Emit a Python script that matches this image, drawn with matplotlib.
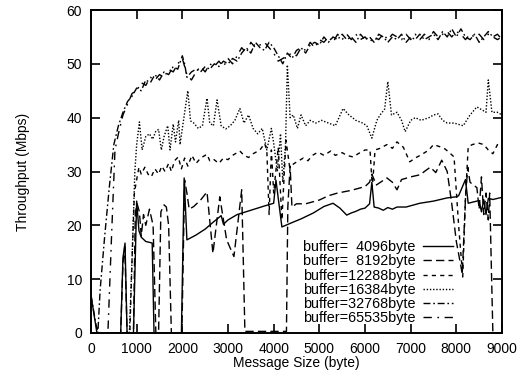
import matplotlib
matplotlib.use("Agg")
import matplotlib.pyplot as plt

plt.rcParams['font.family'] = ['Liberation Sans', 'DejaVu Sans']

# ---------------- data ----------------
x_4096 = [0, 130, 650, 700, 745, 790, 930, 1000, 1050, 1100, 1200, 1300, 1340, 1380, 1980, 2040, 2100,
          2300, 2500, 2650, 2850, 2900, 3000, 3200, 3500, 3800, 4000, 4050, 4180, 4400, 4600, 4870,
          5100, 5300, 5450, 5600, 5700, 5800, 5900, 6000, 6100, 6150, 6200, 6300, 6400, 6500, 6600,
          6700, 6900, 7200, 7500, 7800, 8000, 8050, 8150, 8200, 8260, 8400, 8500, 8550, 8600, 8650,
          8700, 8800, 9000]
y_4096 = [7, 0, 0, 14, 16.7, 0, 0, 24.5, 19, 17.8, 17, 16.8, 16.7, 0, 0, 28.8, 17.3,
          18.2, 19.3, 20.4, 21.8, 20.2, 21, 22, 22.8, 23.6, 24.1, 28.4, 19.7, 20.5, 21.2, 22.3,
          23.5, 24.1, 23.2, 21.9, 22.3, 22.6, 23, 23.2, 24, 28, 23.4, 23.2, 22.8, 23.3, 23,
          23.4, 23.4, 24.1, 24.5, 25.1, 25.3, 25.5, 27.5, 28.5, 24.1, 24.4, 24.6, 22.5, 24.8, 22,
          25, 24.8, 25.2]

x_8192 = [0, 650, 700, 740, 790, 930, 970, 1010, 1060, 1100, 1150, 1200, 1280, 1360, 1420, 1480,
          1530, 1600, 1650, 1700, 1760, 1990, 2050, 2100, 2150, 2250, 2400, 2540, 2670, 2820, 2970,
          3130, 3300, 3370, 3500, 4280, 4310, 4360, 4400, 4500, 4700, 5000, 5200, 5400, 5700, 6000,
          6100, 6150, 6250, 6480, 6600, 6700, 6800, 7000, 7210, 7300, 7430, 7550, 7680, 7800, 7900,
          8000, 8130, 8200, 8250, 8300, 8450, 8500, 8550, 8600, 8650, 8700, 8730, 8800, 9000]
y_8192 = [0, 0, 13, 16, 0, 0, 22.3, 24, 22.5, 18, 22, 20, 23, 20, 0, 0,
          22.5, 23.8, 23.4, 20, 0, 0, 28.4, 26, 23, 23.5, 24.7, 26.2, 14.8, 25.3, 17.3,
          14.2, 26.6, 0.3, 0.3, 0.3, 23.4, 31, 23.4, 24, 24, 24.7, 25.5, 26, 26.5, 27.2,
          28, 29.5, 27.5, 28.8, 28, 26.6, 28.5, 29, 29.4, 30, 30.8, 29.8, 32.1, 30, 24,
          17, 11, 25, 30.8, 28, 27, 23, 29, 22, 26, 21, 26, 0, 0]

x_12288 = [0, 850, 900, 950, 1000, 1050, 1100, 1180, 1250, 1320, 1400, 1480, 1550, 1620, 1700, 1760,
           1830, 1910, 1980, 2050, 2120, 2210, 2300, 2400, 2540, 2600, 2680, 2800, 2900, 3000, 3100,
           3260, 3350, 3450, 3550, 3700, 3800, 3850, 3900, 3950, 4000, 4100, 4180, 4270, 4350, 4450,
           4550, 4650, 4750, 4850, 4950, 5015, 5100, 5250, 5350, 5500, 5600, 5740, 5850, 6000, 6110,
           6160, 6220, 6330, 6480, 6600, 6700, 6840, 6980, 7100, 7250, 7400, 7500, 7640, 7750, 7850,
           7950, 8050, 8140, 8200, 8260, 8350, 8480, 8600, 8700, 8800, 8900, 9000]
y_12288 = [0, 0, 14, 26, 28.5, 30.8, 29.5, 30.8, 29.5, 29, 30.5, 29.5, 31, 30, 31.5, 30,
           32, 32.7, 30.5, 32.5, 31, 33, 31.5, 32.5, 33.2, 32, 32.3, 31.5, 32.5, 32.2, 33,
           33.8, 33, 32.6, 33.3, 34, 35.2, 34, 22, 34, 26, 34.5, 21, 35.8, 30.8, 31.5,
           32, 32.5, 32, 33, 33.5, 33.4, 33, 33.8, 33, 33.5, 33, 32.7, 33.3, 34, 34,
           27, 34, 34.3, 35, 34.3, 35.5, 34.5, 31.8, 32.5, 33.2, 34, 35, 34.6, 34.2, 33.5,
           32.7, 20, 10.4, 25, 34.6, 35, 35.3, 35, 34, 33.3, 35, 34.8]

x_16384 = [0, 840, 900, 960, 1000, 1060, 1120, 1200, 1280, 1350, 1420, 1480, 1540, 1600, 1680, 1730,
           1800, 1850, 1920, 1950, 2000, 2120, 2180, 2250, 2350, 2440, 2540, 2600, 2680, 2760, 2850,
           2950, 3050, 3150, 3260, 3350, 3450, 3550, 3650, 3750, 3850, 3950, 4000, 4080, 4150, 4200,
           4260, 4300, 4360, 4430, 4520, 4600, 4700, 4800, 4920, 5050, 5200, 5350, 5520, 5650, 5800,
           5950, 6040, 6150, 6260, 6330, 6430, 6500, 6580, 6700, 6800, 6880, 7000, 7100, 7230, 7400,
           7500, 7600, 7700, 7800, 7950, 8150, 8300, 8450, 8550, 8650, 8700, 8780, 8900, 9000]
y_16384 = [0, 0, 14, 30, 35, 39.2, 34, 36.5, 37, 36, 37.5, 37.8, 34, 36.5, 38.5, 34,
           38.8, 35.5, 39.5, 35, 38, 45, 39.4, 39, 38, 38.5, 43.6, 39, 38.5, 43.3, 38.5,
           37.9, 38.5, 39.5, 41.7, 39, 40.5, 38, 37, 38, 34, 38, 35.3, 30, 37, 28,
           35, 49.8, 40, 40.5, 38, 40.5, 38.5, 39.5, 39, 39.5, 39, 38.5, 41.7, 40.5, 39.5,
           39, 38.5, 36.2, 39.5, 40.5, 41.6, 46.7, 40.5, 41, 39.5, 37.4, 39.5, 40, 39.5, 40,
           40.5, 40.7, 39.5, 39, 39, 38.5, 40.5, 42, 41.5, 41, 47, 41, 41, 40.5]

x_32768 = [0, 100, 150, 200, 300, 400, 500, 600, 700, 800, 900, 1000, 1100, 1200, 1300, 1400, 1500,
           1600, 1700, 1800, 1900, 2000, 2050, 2100, 2200, 2300, 2400, 2500, 2600, 2700, 2800, 2900,
           3000, 3100, 3200, 3300, 3400, 3500, 3600, 3700, 3800, 3900, 4000, 4100, 4200, 4300, 4400,
           4500, 4600, 4700, 4800, 4900, 5000, 5100, 5200, 5300, 5400, 5500, 5600, 5700, 5800, 5900,
           6000, 6100, 6200, 6300, 6400, 6500, 6600, 6700, 6800, 6900, 7000, 7100, 7200, 7300, 7400,
           7500, 7600, 7700, 7800, 7900, 8000, 8100, 8200, 8300, 8400, 8500, 8600, 8700, 8800, 8900,
           9000]
y_32768 = [7, 2, 0, 8, 18, 27, 35, 38.5, 41, 43, 44, 45.5, 45, 47, 46.5, 48, 47,
           48.5, 48, 49.5, 49, 51.5, 50, 47.5, 48.5, 49, 48.5, 49.5, 49, 50, 49.5, 50.5,
           50, 51, 50.5, 52, 53, 52, 54, 53, 52.5, 54, 53, 51.5, 50, 52, 51,
           52.5, 53, 52, 53.5, 54, 53.5, 55, 54, 55, 54.5, 55.5, 54.5, 55, 54, 55.5,
           54.5, 55, 54, 55.5, 55, 54, 55, 54.5, 55.5, 54, 55, 54.5, 55.5, 54.5, 55,
           55.5, 54.5, 56, 55, 56.5, 55, 56.5, 55, 54.5, 55.5, 54, 55, 56, 55, 54.5,
           55]

x_65535 = [0, 370, 450, 525, 600, 700, 800, 900, 1000, 1100, 1200, 1300, 1400, 1500, 1600, 1700,
           1800, 1900, 2000, 2100, 2200, 2300, 2400, 2500, 2600, 2700, 2800, 2900, 3000, 3100, 3200,
           3300, 3400, 3500, 3600, 3700, 3800, 3900, 4000, 4100, 4200, 4300, 4400, 4500, 4600, 4700,
           4800, 4900, 5000, 5100, 5200, 5300, 5400, 5500, 5600, 5700, 5800, 5900, 6000, 6100, 6200,
           6300, 6400, 6500, 6600, 6700, 6800, 6900, 7000, 7100, 7200, 7300, 7400, 7500, 7600, 7700,
           7800, 7900, 8000, 8100, 8200, 8300, 8400, 8500, 8600, 8700, 8800, 8900, 9000]
y_65535 = [0, 0, 18, 34, 37, 40.5, 42.5, 44.5, 45, 46.5, 46, 47.5, 47, 48, 47.5, 49,
           48.5, 50, 51, 48, 47, 48.5, 49.5, 48.5, 50, 49.5, 50.5, 49.5, 51, 50, 51.5,
           53, 52, 54, 53, 53.5, 54, 53, 52, 50.5, 51, 51.5, 52, 51.5, 53, 52.5,
           54, 53, 54.5, 54, 55, 54, 55.5, 54.5, 55.5, 54.5, 55.5, 54.5, 55, 54, 55,
           54.5, 55.5, 54.5, 55.5, 55, 54.5, 55.5, 54.5, 55.5, 54.5, 55.5, 54.5, 56, 55, 55.5,
           56, 55, 56, 55.5, 54.5, 55.5, 55, 55.5, 54.5, 55.5, 55, 55.5, 54.5]

labels = ["buffer=  4096byte", "buffer=  8192byte", "buffer=12288byte",
          "buffer=16384byte", "buffer=32768byte", "buffer=65535byte"]
x_ticks = [0, 1000, 2000, 3000, 4000, 5000, 6000, 7000, 8000, 9000]
y_ticks = [0, 10, 20, 30, 40, 50, 60]

# ---------------- figure ----------------
fig = plt.figure(figsize=(5.29, 3.74), dpi=100)
ax = fig.add_axes([91/529, 1 - 333/374, 411/529, 323/374])

series = [(x_4096, y_4096), (x_8192, y_8192), (x_12288, y_12288),
          (x_16384, y_16384), (x_32768, y_32768), (x_65535, y_65535)]
styles = ['-', (0, (6, 3)), (0, (3, 3)), (0, (1, 1.3)), (0, (5, 2, 1.2, 2)), (0, (6, 4, 1.2, 4))]

for (xs, ys), ls, lab in zip(series, styles, labels):
    ax.plot(xs, ys, color='black', linestyle=ls, linewidth=1.0, label=lab)

ax.set_xlim(0, 9000)
ax.set_ylim(0, 60)
ax.set_xticks(x_ticks)
ax.set_yticks(y_ticks)
ax.tick_params(direction='in', length=6.5, width=1.2, top=True, right=True,
               labelsize=10, pad=6.5, colors='black')
for s in ax.spines.values():
    s.set_linewidth(1.4)

ax.set_xlabel("Message Size (byte)", fontsize=10, labelpad=0)
ax.set_ylabel("Throughput (Mbps)", fontsize=10, labelpad=26)

leg = ax.legend(loc='lower right', bbox_to_anchor=(0.905, -0.008), frameon=False,
                markerfirst=False, fontsize=10.4, handlelength=2.1, handletextpad=0.5,
                labelspacing=0.02, borderpad=0.2)

fig.savefig("out.png", dpi=100)
